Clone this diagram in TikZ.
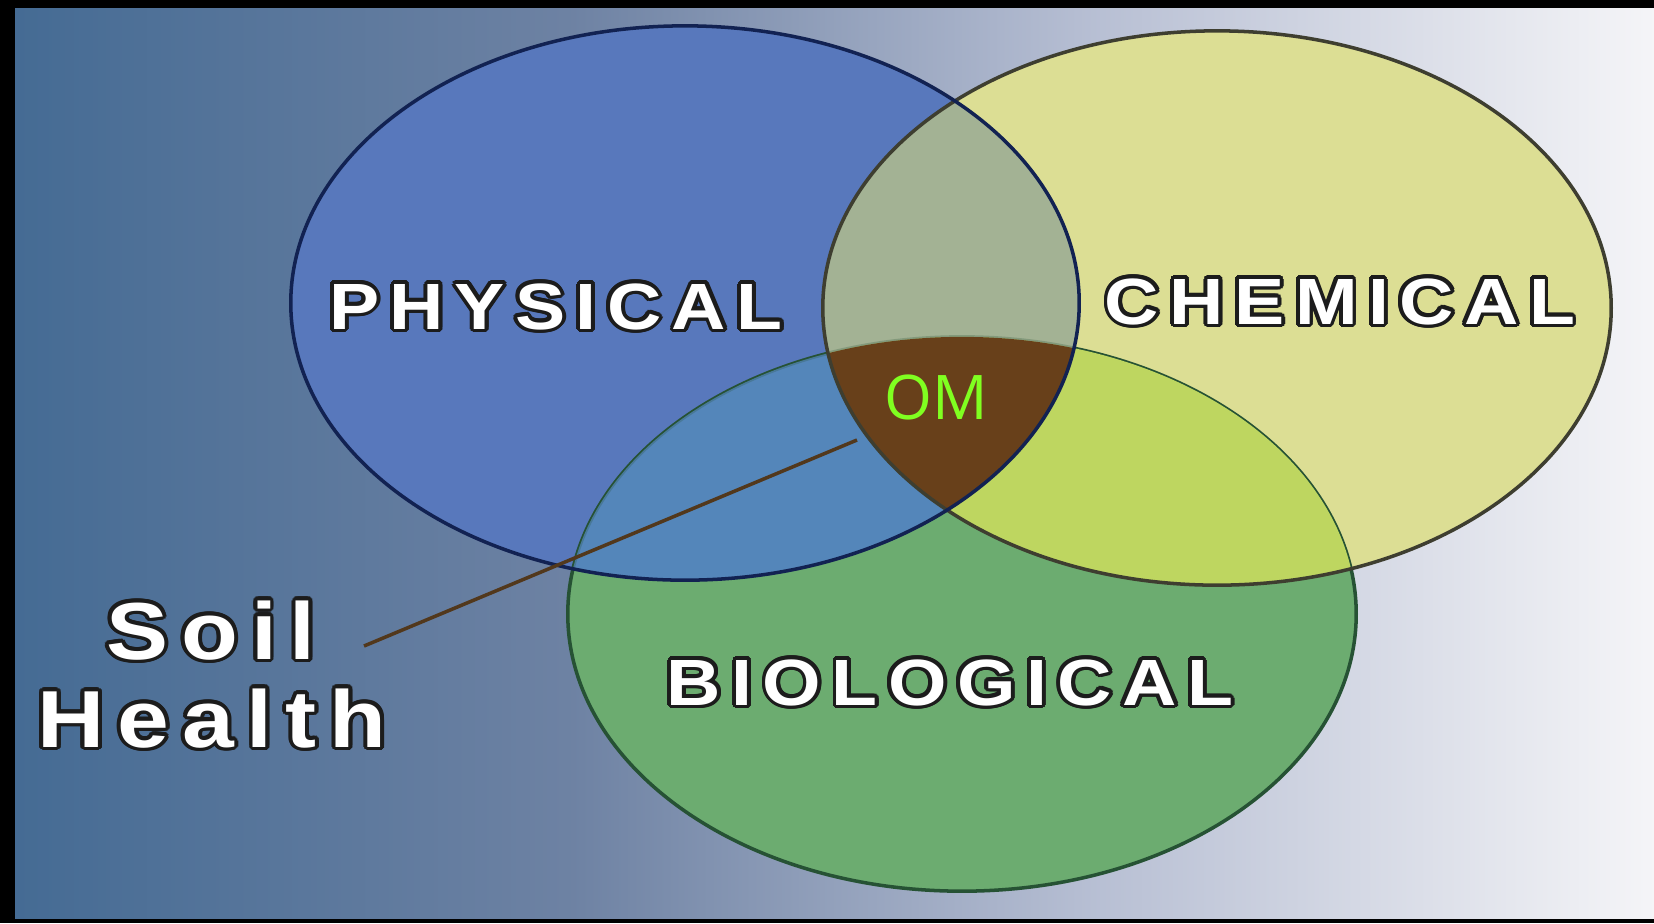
\documentclass[tikz,border=0pt]{standalone}
\usepackage{fontspec}
\usepackage{contour}
\usetikzlibrary{positioning}

\newfontfamily\labelfont{Liberation Sans}[FakeStretch=1.15, LetterSpace=16]
\newfontfamily\omfont{Open Sans}
\contourlength{1.1pt}

\definecolor{physblue}{RGB}{88,120,188}
\definecolor{chemyellow}{RGB}{220,222,148}
\definecolor{biogreen}{RGB}{108,172,112}
\definecolor{pcmix}{RGB}{163,178,148}
\definecolor{pbmix}{RGB}{84,134,186}
\definecolor{cbmix}{RGB}{190,214,96}
\definecolor{ombrown}{RGB}{104,64,26}
\definecolor{omgreen}{RGB}{128,255,32}
\definecolor{physline}{RGB}{18,34,82}
\definecolor{chemline}{RGB}{62,62,48}
\definecolor{bioline}{RGB}{38,82,52}
\definecolor{stemline}{RGB}{82,56,28}
\definecolor{outline}{RGB}{28,28,28}

\pgfdeclarehorizontalshading{backdrop}{100bp}{rgb(0bp)=(0.27,0.42,0.58); rgb(25bp)=(0.27,0.42,0.58); rgb(42bp)=(0.43,0.51,0.64); rgb(58bp)=(0.72,0.75,0.83); rgb(75bp)=(0.96,0.96,0.97); rgb(100bp)=(0.96,0.96,0.97)}

\begin{document}
\begin{tikzpicture}[x=0.01cm, y=-0.01cm]

\tikzstyle{ring} = [x radius=3.94cm, y radius=2.77cm]
\tikzstyle{area} = [font=\labelfont\bfseries\fontsize{18.6}{20}\selectfont, anchor=base, inner sep=0pt]
\tikzstyle{tag} = [font=\labelfont\bfseries\fontsize{23}{25}\selectfont, anchor=base, inner sep=0pt]

%Frame and backdrop
\fill[black] (0,0) rectangle (1654,923);
\shade[shading=backdrop] (15,8) rectangle (1654,918);
\useasboundingbox (0,0) rectangle (1654,923);

%Circle centres
\coordinate (phys) at (685,303);
\coordinate (chem) at (1217,308);
\coordinate (bio) at (962,614);

%Filling the circles
\fill[physblue] (phys) ellipse [ring];
\fill[chemyellow] (chem) ellipse [ring];
\fill[biogreen] (bio) ellipse [ring];
\draw[bioline, line width=1pt] (bio) ellipse [ring];

%Overlaps
\begin{scope}
\clip (phys) ellipse [ring];
\fill[pcmix] (chem) ellipse [ring];
\fill[pbmix] (bio) ellipse [ring];
\draw[bioline, line width=1pt, opacity=0.25] (bio) ellipse [ring];
\end{scope}
\begin{scope}
\clip (chem) ellipse [ring];
\fill[cbmix] (bio) ellipse [ring];
\clip (bio) ellipse [ring];
\clip (phys) ellipse [ring];
\fill[ombrown] (bio) ellipse [ring];
\end{scope}

%Outlines
\draw[chemline, line width=1pt] (chem) ellipse [ring];
\draw[physline, line width=1pt] (phys) ellipse [ring];

%Labels
\node[area] (physical) at (556,329) {\contour{outline}{\textcolor{white}{PHYSICAL}}};
\node[area] (chemical) at (1340,324) {\contour{outline}{\textcolor{white}{CHEMICAL}}};
\node[area] (biological) at (950,705) {\contour{outline}{\textcolor{white}{BIOLOGICAL}}};
\node[anchor=base, inner sep=0pt, text=omgreen, font=\omfont\fontsize{17.5}{20}\selectfont] (om) at (936,419) {OM};
\node[tag] (soil) at (211,659) {\contour{outline}{\textcolor{white}{Soil}}};
\node[tag] (health) at (212,747) {\contour{outline}{\textcolor{white}{Health}}};

%Pointer to OM
\coordinate (tail) at (364,646);
\coordinate (head) at (857,440);
\draw[stemline, line width=1pt] (tail) -- (head);

\end{tikzpicture}
\end{document}
